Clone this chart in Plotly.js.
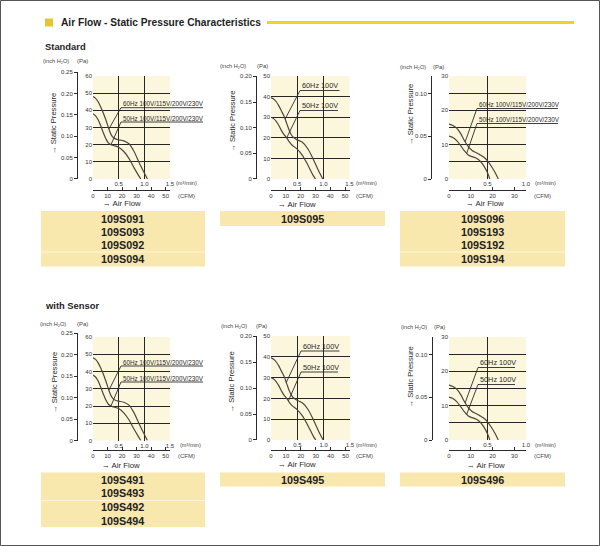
<!DOCTYPE html>
<html><head><meta charset="utf-8">
<script src="https://cdn.plot.ly/plotly-3.0.1.min.js"></script>
<style>html,body{margin:0;padding:0;background:#fff}#chart{width:600px;height:546px}</style>
</head><body><div id="chart"></div>
<script>
// ---------- data ----------
// Standard / with Sensor, 109S091 family (60 Pa scale)
const flowA60 = [0,0.05,0.1,0.15,0.2,0.25,0.3,0.35,0.4,0.45,0.5,0.6,0.7,0.8,0.9,1.0,1.06];
const presA60 = [48,47,45,42,38.5,34.5,30,26,24,23.2,22.8,22.2,20.5,16,9.5,3.5,0];
const flowA50 = [0,0.05,0.1,0.15,0.2,0.25,0.3,0.35,0.4,0.5,0.6,0.7,0.8,0.9,0.93];
const presA50 = [38,36.8,34.5,31,27,23.5,21,20,19.5,18.5,16,12,6.5,1.5,0];
// 109S095 family (50 Pa scale)
const flowB60 = [0,0.05,0.1,0.15,0.2,0.25,0.3,0.35,0.4,0.45,0.5,0.6,0.7,0.8,0.9,0.99];
const presB60 = [39.5,38.8,37.5,35.5,33,30.5,27,23.5,21,19.8,19,17.8,14.8,10,4.5,0];
const flowB50 = [0,0.05,0.1,0.15,0.2,0.25,0.3,0.35,0.4,0.5,0.6,0.7,0.8,0.85];
const presB50 = [30,29.3,28,26,23.5,21.5,20,18,16.5,14.5,11.5,7,2,0];
// 109S096 family (30 Pa scale)
const flowC60 = [0,0.05,0.1,0.15,0.2,0.25,0.3,0.35,0.4,0.45,0.5,0.55,0.6,0.64];
const presC60 = [16,15.6,14.8,13.3,11.2,9.4,8.3,7.7,7.1,6.4,5.3,3.7,1.8,0];
const flowC50 = [0,0.05,0.1,0.15,0.2,0.25,0.3,0.35,0.4,0.45,0.5,0.53];
const presC50 = [12.5,12.1,11.2,9.8,8.2,7.0,6.5,6.1,5.3,3.9,1.8,0];

const modelsA  = ['109S091','109S093','109S092','109S094'];
const modelsB  = ['109S095'];
const modelsC  = ['109S096','109S193','109S192','109S194'];
const modelsSA = ['109S491','109S493','109S492','109S494'];
const modelsSB = ['109S495'];
const modelsSC = ['109S496'];

const labelLong60 = '60Hz 100V/115V/200V/230V';
const labelLong50 = '50Hz 100V/115V/200V/230V';
const labelShort60 = '60Hz 100V';
const labelShort50 = '50Hz 100V';

const paTicksA = [0,10,20,30,40,50,60];
const paTicksB = [0,10,20,30,40,50];
const paTicksC = [0,5,10,15,20,25,30];
const paTextC  = ['0','','10','','20','','30'];
const inchTicksA = [0,0.05,0.10,0.15,0.20,0.25];
const inchTicksB = [0,0.05,0.10,0.15,0.20];
const inchTicksC = [0,0.05,0.10];
const cfmTicksAB = [0,10,20,30,40,50];
const cfmTicksC  = [0,10,20,30];
const flowTicksAB = [0.5,1.0,1.5];
const flowTicksC  = [0.5,1.0];

// ---------- layout helpers ----------
const W = 600, H = 546;
const px = v => v / W;
const py = v => 1 - v / H;
const INCH = 249.089;   // Pa per inch H2O
const CFMF = 35.3147;   // CFM per m3/min
const FONT = 'Liberation Sans, Arial, sans-serif';
const INK = '#2a2a2a';

function interp(xs, ys, x) {
  for (let i = 1; i < xs.length; i++) {
    if (x <= xs[i]) { const t = (x - xs[i-1]) / (xs[i] - xs[i-1]); return ys[i-1] + t * (ys[i] - ys[i-1]); }
  }
  return ys[ys.length - 1];
}

const panels = [
  {x0:93, x1:170, y0:76, y1:179, xmax:1.5, ymax:60, pa:paTicksA, paText:paTicksA.map(String), inch:inchTicksA, inchMax:0.25, inchX:77, cfm:cfmTicksAB, cfmY:190, flow:flowTicksAB,
   f60:flowA60, p60:presA60, f50:flowA50, p50:presA50, lab60:labelLong60, lab50:labelLong50, lsize:6.3,
   l60:{x:122, u:107.7, ux1:203, at:0.31}, l50:{x:122, u:122, ux1:203, at:0.35},
   units:{ix:56, iy:61, pax:82.5, flowLx:186, flowLy:183.3, cfmLx:186, cfmLy:196},
   sp:{x:54, y:124}, af:{x:121.5, y:203}},
  {x0:271, x1:349.5, y0:76, y1:179, xmax:1.5, ymax:50, pa:paTicksB, paText:paTicksB.map(String), inch:inchTicksB, inchMax:0.20, inchX:256, cfm:cfmTicksAB, cfmY:190, flow:flowTicksAB,
   f60:flowB60, p60:presB60, f50:flowB50, p50:presB50, lab60:labelShort60, lab50:labelShort50, lsize:7.3,
   l60:{x:301, u:90.5, ux1:339.5, at:0.27}, l50:{x:301, u:110.5, ux1:338, at:0.30},
   units:{ix:233.3, iy:65.7, pax:262, flowLx:366.7, flowLy:182.7, cfmLx:364, cfmLy:196},
   sp:{x:231.7, y:121}, af:{x:296.5, y:204.5}},
  {x0:449, x1:526, y0:76, y1:179, xmax:1.0, ymax:30, pa:paTicksC, paText:paTextC, inch:inchTicksC, inchMax:30/INCH, inchX:431, cfm:cfmTicksC, cfmY:190, flow:flowTicksC,
   f60:flowC60, p60:presC60, f50:flowC50, p50:presC50, lab60:labelLong60, lab50:labelLong50, lsize:6.3,
   l60:{x:478, u:108.5, ux1:558, at:0.21}, l50:{x:478, u:123.5, ux1:558, at:0.23},
   units:{ix:413.3, iy:66.7, pax:438, flowLx:545, flowLy:182.7, cfmLx:542, cfmLy:196},
   sp:{x:410, y:115}, af:{x:485, y:203.5}},
  {x0:93, x1:170, y0:337, y1:440.5, xmax:1.5, ymax:60, pa:paTicksA, paText:paTicksA.map(String), inch:inchTicksA, inchMax:0.25, inchX:77, cfm:cfmTicksAB, cfmY:450, flow:flowTicksAB,
   f60:flowA60, p60:presA60, f50:flowA50, p50:presA50, lab60:labelLong60, lab50:labelLong50, lsize:6.3,
   l60:{x:122, u:366, ux1:203, at:0.31}, l50:{x:122, u:382, ux1:203, at:0.35},
   units:{ix:53, iy:324, pax:82.5, flowLx:190, flowLy:445, cfmLx:186.7, cfmLy:456},
   sp:{x:54, y:383}, af:{x:121, y:465}},
  {x0:271, x1:350, y0:336, y1:440, xmax:1.5, ymax:50, pa:paTicksB, paText:paTicksB.map(String), inch:inchTicksB, inchMax:0.20, inchX:256, cfm:cfmTicksAB, cfmY:449.5, flow:flowTicksAB,
   f60:flowB60, p60:presB60, f50:flowB50, p50:presB50, lab60:labelShort60, lab50:labelShort50, lsize:7.3,
   l60:{x:302, u:351, ux1:339.5, at:0.29}, l50:{x:302, u:372, ux1:338, at:0.33},
   units:{ix:233.7, iy:325.7, pax:261.7, flowLx:366.7, flowLy:445, cfmLx:364, cfmLy:455.7},
   sp:{x:231.7, y:381.7}, af:{x:296.5, y:464.5}},
  {x0:449, x1:526, y0:337, y1:440, xmax:1.0, ymax:30, pa:paTicksC, paText:paTextC, inch:inchTicksC, inchMax:30/INCH, inchX:431.5, cfm:cfmTicksC, cfmY:449.5, flow:flowTicksC,
   f60:flowC60, p60:presC60, f50:flowC50, p50:presC50, lab60:labelShort60, lab50:labelShort50, lsize:7.3,
   l60:{x:479, u:367.5, ux1:515, at:0.21}, l50:{x:479, u:384.5, ux1:515, at:0.23},
   units:{ix:414.3, iy:326.7, pax:439, flowLx:545, flowLy:445, cfmLx:542.5, cfmLy:455.7},
   sp:{x:410, y:377.5}, af:{x:485.5, y:465}}
];

const boxes = [
  {x0:41, x1:205, y0:211, y1:266.5, cx:122.5, rows:modelsA,  ys:[219,232,245.5,259], sep:252},
  {x0:220,x1:385, y0:211, y1:226,   cx:302.5, rows:modelsB,  ys:[219]},
  {x0:400,x1:565, y0:211, y1:266.5, cx:482.5, rows:modelsC,  ys:[219,232,245.5,259], sep:252},
  {x0:41, x1:205, y0:472.5,y1:527,  cx:122.5, rows:modelsSA, ys:[480,493.3,507,520.5], sep:500.5},
  {x0:220,x1:385, y0:472.5,y1:486.5,cx:302.5, rows:modelsSB, ys:[480]},
  {x0:400,x1:565, y0:472.5,y1:486.5,cx:482.5, rows:modelsSC, ys:[480]}
];

const traces = [];
const layout = {
  width: W, height: H, margin:{l:0,r:0,t:0,b:0},
  paper_bgcolor:'#ffffff', plot_bgcolor:'rgba(0,0,0,0)',
  showlegend:false, font:{family:FONT, color:INK},
  shapes:[], annotations:[]
};
const tickFont = {family:FONT, size:6, color:'#333'};
function ann(o) { return Object.assign({xref:'paper', yref:'paper', showarrow:false, xanchor:'center', yanchor:'middle', font:{family:FONT, size:6, color:INK}}, o); }
function line(x0,y0,x1,y1,color,width) { return {type:'line', xref:'paper', yref:'paper', x0:px(x0), y0:py(y0), x1:px(x1), y1:py(y1), line:{color:color||INK, width:width||1}}; }
function rect(x0,y0,x1,y1,fill,layer) { return {type:'rect', xref:'paper', yref:'paper', x0:px(x0), y0:py(y0), x1:px(x1), y1:py(y1), fillcolor:fill, line:{width:0}, layer:layer||'below'}; }

panels.forEach((p, k) => {
  const mx = 2*k+1, cx = 2*k+2;
  const xId = mx === 1 ? 'x' : 'x'+mx, yId = mx === 1 ? 'y' : 'y'+mx;
  const x2Id = 'x'+cx, y2Id = 'y'+cx;
  const xKey = mx === 1 ? 'xaxis' : 'xaxis'+mx, yKey = mx === 1 ? 'yaxis' : 'yaxis'+mx;
  const inchTop = p.y1 - (p.inchMax*INCH/p.ymax)*(p.y1 - p.y0);

  layout[xKey] = {domain:[px(p.x0), px(p.x1)], range:[0, p.xmax], anchor:yId, tickvals:p.flow, ticktext:p.flow.map(v=>v.toFixed(1)),
    showgrid:true, gridcolor:'#262626', gridwidth:1, zeroline:false, showline:false, ticks:'', tickfont:tickFont, fixedrange:true};
  layout[yKey] = {domain:[py(p.y1), py(p.y0)], range:[0, p.ymax], anchor:xId, tickvals:p.pa, ticktext:p.paText,
    showgrid:true, gridcolor:'#262626', gridwidth:1, zeroline:false, showline:false, ticks:'', tickfont:tickFont, fixedrange:true};
  layout['xaxis'+cx] = {domain:[px(p.x0), px(p.x1)], range:[0, p.xmax*CFMF], anchor:'free', position:py(p.cfmY), side:'bottom',
    tickvals:p.cfm, ticks:'inside', ticklen:3, tickcolor:INK, showline:true, linecolor:INK, linewidth:1, showgrid:false, zeroline:false, tickfont:tickFont, fixedrange:true};
  layout['yaxis'+cx] = {domain:[py(p.y1), py(inchTop)], range:[0, p.inchMax], anchor:'free', position:px(p.inchX), side:'left',
    tickvals:p.inch, ticktext:p.inch.map(v=> v===0 ? '0' : v.toFixed(2)), ticks:'outside', ticklen:3, tickcolor:INK,
    showline:true, linecolor:INK, linewidth:1, showgrid:false, zeroline:false, tickfont:tickFont, fixedrange:true};

  traces.push({type:'scatter', mode:'lines', x:p.f60, y:p.p60, xaxis:xId, yaxis:yId, line:{color:'#4d4640', width:1.2, shape:'spline', smoothing:0.9}, hoverinfo:'skip'});
  traces.push({type:'scatter', mode:'lines', x:p.f50, y:p.p50, xaxis:xId, yaxis:yId, line:{color:'#4d4640', width:1.2, shape:'spline', smoothing:0.9}, hoverinfo:'skip'});
  traces.push({type:'scatter', mode:'lines', x:[null], y:[null], xaxis:x2Id, yaxis:y2Id, hoverinfo:'skip'});

  // plot background
  layout.shapes.push(rect(p.x0, p.y0, p.x1, p.y1, '#fcf6dc'));

  // labels with underline + leader to curve
  const toPx = (fx, pa) => [p.x0 + fx/p.xmax*(p.x1-p.x0), p.y1 - pa/p.ymax*(p.y1-p.y0)];
  [[p.l60, p.lab60, p.f60, p.p60], [p.l50, p.lab50, p.f50, p.p50]].forEach(([l, txt, fx, py_]) => {
    layout.annotations.push(ann({x:px(l.x), y:py(l.u + 0.6), xanchor:'left', yanchor:'bottom', borderpad:0, text:txt, font:{family:FONT, size:p.lsize, color:INK}}));
    layout.shapes.push(line(l.x - 1, l.u, l.ux1, l.u, INK, 0.9));
    const t = toPx(l.at, interp(fx, py_, l.at));
    layout.shapes.push(line(l.x - 1, l.u, t[0], t[1], INK, 0.9));
  });

  // unit labels and axis titles
  const u = p.units;
  const uf = {family:FONT, size:6, color:'#444'};
  layout.annotations.push(ann({x:px(u.ix), y:py(u.iy), text:'(inch H₂O)', font:{family:FONT, size:5.6, color:'#444'}}));
  layout.annotations.push(ann({x:px(u.pax), y:py(u.iy), text:'(Pa)', font:uf}));
  layout.annotations.push(ann({x:px(u.flowLx), y:py(u.flowLy), text:'(m³/min)', font:{family:FONT, size:5.6, color:'#444'}}));
  layout.annotations.push(ann({x:px(u.cfmLx), y:py(u.cfmLy), text:'(CFM)', font:uf}));
  layout.annotations.push(ann({x:px(p.sp.x), y:py(p.sp.y), text:'→ Static Pressure', textangle:-90, font:{family:FONT, size:7.6, color:INK}}));
  layout.annotations.push(ann({x:px(p.af.x), y:py(p.af.y), text:'→ Air Flow', font:{family:FONT, size:7.8, color:INK}}));
});

// model name boxes
boxes.forEach(b => {
  layout.shapes.push(rect(b.x0, b.y0, b.x1, b.y1, '#f9e8ae'));
  if (b.sep) layout.shapes.push(line(b.x0, b.sep, b.x1, b.sep, '#fdf6dc', 1));
  b.rows.forEach((r, i) => layout.annotations.push(ann({x:px(b.cx), y:py(b.ys[i]), text:'<b>'+r+'</b>', font:{family:FONT, size:10.8, color:'#222'}})));
});

// headings
layout.shapes.push(rect(45, 18.5, 53, 26.5, '#e4c635'));
layout.shapes.push(line(267, 22.5, 574, 22.5, '#f0d22a', 3));
layout.annotations.push(ann({x:px(58.5), y:py(22.8), xanchor:'left', text:'<b>Air Flow - Static Pressure Characteristics</b>', font:{family:FONT, size:10.2, color:'#1e1e1e'}}));
layout.annotations.push(ann({x:px(42.5), y:py(46), xanchor:'left', text:'<b>Standard</b>', font:{family:FONT, size:9.4, color:'#1e1e1e'}}));
layout.annotations.push(ann({x:px(42.5), y:py(305), xanchor:'left', text:'<b>with Sensor</b>', font:{family:FONT, size:9.4, color:'#1e1e1e'}}));
// page frame
layout.shapes.push({type:'rect', xref:'paper', yref:'paper', x0:px(0.5), y0:py(0.5), x1:px(599.5), y1:py(545.5), line:{color:'#555', width:1}, fillcolor:'rgba(0,0,0,0)', layer:'above'});

Plotly.newPlot('chart', traces, layout, {staticPlot:true, displayModeBar:false});
</script></body></html>
